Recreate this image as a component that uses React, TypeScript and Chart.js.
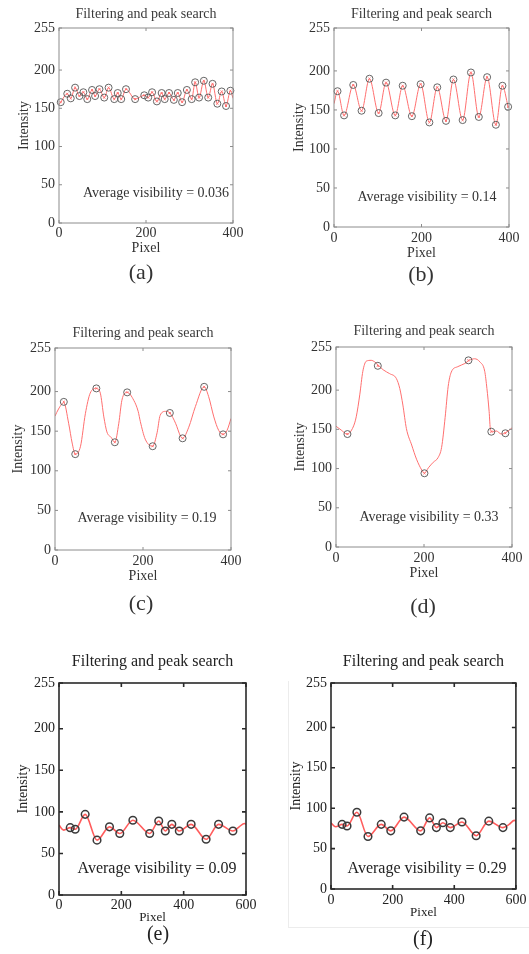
import React, { useEffect, useRef } from 'react';
import { Chart, registerables } from 'chart.js';

Chart.register(...registerables);

const FONT = "'Liberation Serif', 'Times New Roman', Times, serif";
const TITLE_TEXT = 'Filtering and peak search';
const X_TITLE = 'Pixel';
const Y_TITLE = 'Intensity';
const Y_TICKS = [0, 50, 100, 150, 200, 255];
const X_TICKS_400 = [0, 200, 400];
const X_TICKS_600 = [0, 200, 400, 600];

// (a) peaks/troughs found by the peak search
const A_PEAKS = [
  [4, 158], [19, 169], [27, 163], [37, 177], [47, 166], [56, 171], [65, 162], [76, 174],
  [83, 166], [93, 175], [104, 164], [114, 177], [127, 162], [135, 170], [143, 162], [154, 175],
  [175, 162], [196, 167], [205, 164], [214, 171], [225, 159], [236, 170], [243, 162], [253, 170],
  [264, 161], [273, 170], [283, 158], [294, 174], [305, 162], [313, 184], [322, 164], [333, 186],
  [343, 164], [353, 182], [364, 156], [374, 172], [384, 153], [394, 173],
];
const A_LINE = [[0, 155], ...A_PEAKS, [400, 163]];

// (b)
const B_PEAKS = [
  [8, 174], [23, 143], [44, 182], [63, 149], [81, 190], [102, 146], [119, 185], [140, 143],
  [157, 181], [178, 142], [198, 183], [218, 134], [236, 179], [256, 136], [273, 189], [294, 137],
  [313, 198], [331, 141], [350, 192], [370, 131], [385, 181], [398, 154],
];
const B_LINE = [[0, 158], ...B_PEAKS];

// (c)
const C_LINE = [
  [0, 169], [8, 178], [20, 186], [31, 160], [39, 135], [46, 121], [58, 131], [69, 172],
  [80, 198], [94, 204], [103, 198], [111, 168], [118, 149], [128, 142], [136, 136], [145, 160],
  [152, 189], [164, 199], [179, 189], [189, 175], [194, 162], [205, 140], [222, 131], [232, 148],
  [239, 170], [251, 175], [261, 173], [274, 160], [285, 144], [290, 141], [304, 155], [319, 181],
  [339, 206], [349, 194], [361, 168], [372, 151], [382, 146], [391, 151], [400, 166],
];
const C_PEAKS = [
  [20, 187], [46, 121], [94, 204], [136, 136], [164, 199], [222, 131], [261, 173], [290, 141],
  [339, 206], [382, 146],
];

// (d)
const D_LINE = [
  [0, 154], [12, 149], [25, 144], [39, 153], [46, 166], [54, 194], [61, 224], [69, 237],
  [80, 238], [88, 236], [96, 232], [107, 226], [122, 221], [137, 215], [145, 202], [152, 181],
  [160, 151], [172, 130], [183, 112], [195, 98], [201, 94], [210, 101], [221, 108], [232, 114],
  [240, 127], [248, 165], [255, 205], [262, 223], [277, 230], [293, 234], [303, 238], [315, 240],
  [327, 236], [338, 224], [343, 202], [348, 173], [351, 150], [357, 147], [364, 148], [376, 144],
  [386, 146], [396, 150], [400, 152],
];
const D_PEAKS = [[26, 144], [95, 231], [201, 94], [301, 238], [353, 147], [385, 145]];

// (e)
const E_PEAKS = [
  [36, 81], [52, 79], [84, 97], [122, 66], [162, 82], [195, 74], [237, 90], [291, 74],
  [320, 89], [341, 77], [362, 85], [386, 77], [424, 85], [472, 67], [512, 85], [558, 77],
];
const E_LINE = [[0, 84], [15, 78], ...E_PEAKS, [578, 82], [595, 86], [600, 85]];

// (f)
const F_PEAKS = [
  [36, 80], [52, 78], [84, 95], [120, 65], [163, 80], [194, 72], [237, 89], [291, 72],
  [320, 88], [342, 76], [363, 82], [387, 76], [425, 83], [471, 66], [512, 84], [558, 76],
];
const F_LINE = [[0, 82], [15, 77], ...F_PEAKS, [578, 80], [595, 85], [600, 84]];

const STYLES: Record<string, any> = {
  light: {
    frame: '#8c8c8c', frameW: 1, tickLen: 3, text: '#333333', titleColor: '#3a3a3a',
    titleSize: 14, tickSize: 14, axisSize: 14, pixelSize: 14, noteSize: 14, labelSize: 22,
    line: '#ff6f6f', lineW: 1, circle: '#555555', circleW: 0.9, radius: 3.5, marks: true,
  },
  dark: {
    frame: '#2a2a2a', frameW: 1.6, tickLen: 4, text: '#222222', titleColor: '#222222',
    titleSize: 16, tickSize: 14, axisSize: 14, pixelSize: 13, noteSize: 16, labelSize: 20,
    line: '#ff5c5c', lineW: 1.6, circle: '#3a3a3a', circleW: 1.5, radius: 3.8, marks: false,
  },
};

type Spec = {
  box: number[]; plot: number[]; titleY: number; yTitleX: number; xTickY: number; pixelY: number;
  label: string; labelPos: number[]; note: string; notePos: number[];
  line: number[][]; peaks: number[][]; xMax: number; xTicks: number[]; style: string;
};

const PANELS: Spec[] = [
  { box: [0, 0, 262, 292], plot: [59, 28, 233, 223], titleY: 14, yTitleX: 24, xTickY: 233, pixelY: 248.5,
    label: '(a)', labelPos: [141, 273], note: 'Average visibility = 0.036', notePos: [156, 193],
    line: A_LINE, peaks: A_PEAKS, xMax: 400, xTicks: X_TICKS_400, style: 'light' },
  { box: [262, 0, 267, 292], plot: [334, 28, 509, 227], titleY: 14, yTitleX: 299, xTickY: 238, pixelY: 253,
    label: '(b)', labelPos: [421, 275], note: 'Average visibility = 0.14', notePos: [427, 197],
    line: B_LINE, peaks: B_PEAKS, xMax: 400, xTicks: X_TICKS_400, style: 'light' },
  { box: [0, 318, 262, 300], plot: [55, 348, 231, 550], titleY: 333, yTitleX: 18, xTickY: 561.7, pixelY: 576.7,
    label: '(c)', labelPos: [141, 604], note: 'Average visibility = 0.19', notePos: [147, 518],
    line: C_LINE, peaks: C_PEAKS, xMax: 400, xTicks: X_TICKS_400, style: 'light' },
  { box: [262, 318, 267, 300], plot: [336, 347, 512, 547], titleY: 331, yTitleX: 300, xTickY: 558.8, pixelY: 573,
    label: '(d)', labelPos: [423, 607.5], note: 'Average visibility = 0.33', notePos: [429, 517],
    line: D_LINE, peaks: D_PEAKS, xMax: 400, xTicks: X_TICKS_400, style: 'light' },
  { box: [0, 640, 262, 314], plot: [59, 683, 246, 895], titleY: 661.7, yTitleX: 23, xTickY: 905.8, pixelY: 918,
    label: '(e)', labelPos: [158, 935], note: 'Average visibility = 0.09', notePos: [157, 869],
    line: E_LINE, peaks: E_PEAKS, xMax: 600, xTicks: X_TICKS_600, style: 'dark' },
  { box: [262, 640, 267, 314], plot: [331, 683, 516, 889], titleY: 661.7, yTitleX: 296, xTickY: 900, pixelY: 913,
    label: '(f)', labelPos: [423, 940], note: 'Average visibility = 0.29', notePos: [427, 869],
    line: F_LINE, peaks: F_PEAKS, xMax: 600, xTicks: X_TICKS_600, style: 'dark' },
];

function buildConfig(s: Spec): any {
  const st = STYLES[s.style];
  const [bx, by, bw, bh] = s.box;
  const [L, T, R, B] = s.plot;
  const lhTitle = st.titleSize * 1.2;
  const lhTick = st.tickSize * 1.2;
  const lhAxis = st.axisSize * 1.2;
  const lhPix = st.pixelSize * 1.2;
  const xH = s.pixelY - B + lhPix / 2;
  const toPts = (arr: number[][]) => arr.map(([x, y]) => ({ x, y }));

  const decor = {
    id: 'decor',
    afterDatasetsDraw(chart: any) {
      const { ctx, chartArea: a, scales } = chart;
      ctx.save();
      ctx.strokeStyle = st.frame;
      ctx.lineWidth = st.frameW;
      ctx.strokeRect(a.left, a.top, a.right - a.left, a.bottom - a.top);
      ctx.beginPath();
      const tl = st.tickLen;
      for (const t of scales.x.ticks) {
        const p = scales.x.getPixelForValue(t.value);
        ctx.moveTo(p, a.bottom); ctx.lineTo(p, a.bottom - tl);
        ctx.moveTo(p, a.top); ctx.lineTo(p, a.top + tl);
      }
      for (const t of scales.y.ticks) {
        const p = scales.y.getPixelForValue(t.value);
        ctx.moveTo(a.left, p); ctx.lineTo(a.left + tl, p);
        ctx.moveTo(a.right, p); ctx.lineTo(a.right - tl, p);
      }
      ctx.stroke();
      ctx.fillStyle = st.text;
      ctx.textAlign = 'center';
      ctx.textBaseline = 'middle';
      ctx.font = `${st.noteSize}px ${FONT}`;
      ctx.fillText(s.note, s.notePos[0] - bx, s.notePos[1] - by);
      ctx.font = `${st.labelSize}px ${FONT}`;
      ctx.fillText(s.label, s.labelPos[0] - bx, s.labelPos[1] - by);
      ctx.restore();
    },
  };

  const datasets: any[] = [
    {
      label: 'peaks', data: toPts(s.peaks), showLine: false, clip: false,
      pointStyle: 'circle', pointRadius: st.radius, pointBackgroundColor: 'rgba(0,0,0,0)',
      pointBorderColor: st.circle, pointBorderWidth: st.circleW, order: 1,
    },
  ];
  if (st.marks) {
    datasets.push({
      label: 'marks', data: toPts(s.peaks), showLine: false, clip: false,
      pointStyle: 'crossRot', pointRadius: 1.4, pointBorderColor: st.line, pointBorderWidth: 1, order: 2,
    });
  }
  datasets.push({
    label: 'filtered', data: toPts(s.line), showLine: true, pointRadius: 0,
    borderColor: st.line, borderWidth: st.lineW, cubicInterpolationMode: 'monotone', fill: false, order: 3,
  });

  return {
    type: 'scatter',
    data: { datasets },
    plugins: [decor],
    options: {
      responsive: false,
      animation: false,
      events: [],
      layout: { padding: { left: 0, top: 0, right: bx + bw - R, bottom: by + bh - (B + xH) } },
      plugins: {
        legend: { display: false },
        tooltip: { enabled: false },
        title: {
          display: true, text: TITLE_TEXT, fullSize: false, color: st.titleColor,
          font: { family: FONT, size: st.titleSize, weight: 'normal' },
          padding: { top: s.titleY - by - lhTitle / 2, bottom: T - s.titleY - lhTitle / 2 },
        },
      },
      scales: {
        x: {
          type: 'linear', min: 0, max: s.xMax,
          afterBuildTicks: (sc: any) => { sc.ticks = s.xTicks.map((v) => ({ value: v })); },
          afterFit: (sc: any) => { sc.height = xH; },
          grid: { display: false, drawTicks: false },
          border: { display: false },
          ticks: { padding: s.xTickY - B - lhTick / 2, color: st.text, font: { family: FONT, size: st.tickSize }, maxRotation: 0 },
          title: { display: true, text: X_TITLE, color: st.text, font: { family: FONT, size: st.pixelSize }, padding: { top: 0, bottom: 0 } },
        },
        y: {
          type: 'linear', min: 0, max: 255,
          afterBuildTicks: (sc: any) => { sc.ticks = Y_TICKS.map((v) => ({ value: v })); },
          afterFit: (sc: any) => { sc.width = L - bx; },
          grid: { display: false, drawTicks: false },
          border: { display: false },
          ticks: { padding: 4, color: st.text, font: { family: FONT, size: st.tickSize } },
          title: { display: true, text: Y_TITLE, color: st.text, font: { family: FONT, size: st.axisSize }, padding: { top: s.yTitleX - bx - lhAxis / 2, bottom: 0 } },
        },
      },
    },
  };
}

function Panel({ s }: { s: Spec }) {
  const ref = useRef<HTMLCanvasElement | null>(null);
  useEffect(() => {
    if (!ref.current) return;
    const chart = new Chart(ref.current, buildConfig(s));
    return () => chart.destroy();
  }, [s]);
  const [x, y, w, h] = s.box;
  return (
    <canvas
      ref={ref}
      width={w}
      height={h}
      style={{ position: 'absolute', left: x, top: y, width: w, height: h }}
    />
  );
}

export default function App() {
  return (
    <div style={{ position: 'absolute', left: 0, top: 0, width: 529, height: 954, background: '#ffffff', overflow: 'hidden' }}>
      <div style={{ position: 'absolute', left: 288, top: 681, width: 245, height: 246, borderLeft: '1px solid #ececec', borderBottom: '1px solid #ececec' }} />
      {PANELS.map((p) => (
        <Panel key={p.label} s={p} />
      ))}
    </div>
  );
}
